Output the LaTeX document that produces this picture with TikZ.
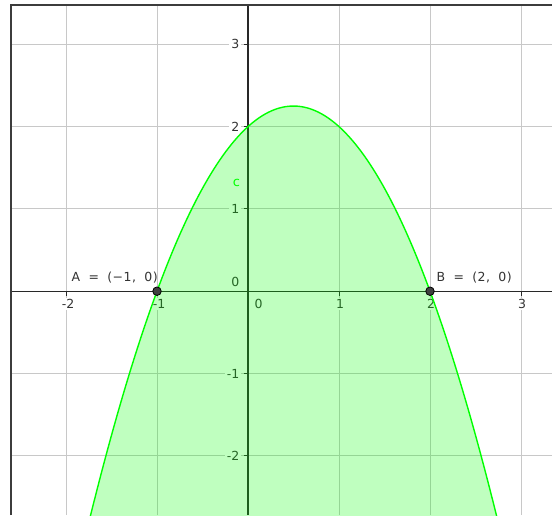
\documentclass[tikz,border=0pt]{standalone}
\usepackage{fontspec}
\setmainfont{DejaVu Sans}
\newfontfamily\ptfont[WordSpace=1.85,LetterSpace=4]{DejaVu Sans}
\definecolor{gridgray}{RGB}{200,200,200}
\definecolor{axisgray}{RGB}{40,40,40}
\definecolor{framegray}{RGB}{60,60,60}
\definecolor{curvegreen}{RGB}{0,255,0}
\definecolor{ptfill}{RGB}{64,64,64}
\definecolor{labelgray}{RGB}{51,51,51}
\begin{document}
\begin{tikzpicture}[x=1pt,y=-1pt,
  gridline/.style={draw=gridgray,line width=1pt},
  axisline/.style={draw=axisgray,line width=1.2pt},
  tickmark/.style={draw=axisgray,line width=1pt},
  ticklabel/.style={font=\fontsize{12.5}{13}\selectfont,text=labelgray,fill=white,inner xsep=2pt,inner ysep=1.5pt},
  zerolabel/.style={font=\fontsize{12.5}{13}\selectfont,text=labelgray,inner sep=0pt},
  ptlabel/.style={font=\ptfont\fontsize{12.5}{13}\selectfont,text=labelgray,inner sep=0pt,anchor=base west},
  curvelabel/.style={font=\fontsize{13}{13}\selectfont,text=curvegreen,inner sep=0pt},
  ptdot/.style={circle,fill=ptfill,draw=black,line width=0.8pt,minimum size=8.5pt,inner sep=0pt},
  fillregion/.style={fill=curvegreen,fill opacity=0.25},
  curveline/.style={draw=curvegreen,line width=1.4pt},
  framerule/.style={draw=framegray,line width=1.4pt,line join=miter}]

\useasboundingbox (0,0) rectangle (552,515);
\fill[white] (0,0) rectangle (552,515);

\begin{scope}
  \clip (11,5) rectangle (552,515);
  % grid
  \foreach \gx in {-2,...,3}
    \draw[gridline] ({248+91*\gx},5) -- ({248+91*\gx},515);
  \foreach \gy in {-2,...,3}
    \draw[gridline] (11,{291.2-82.3*\gy}) -- (552,{291.2-82.3*\gy});
  % x tick labels
  \foreach \gx/\nm/\lab/\dx in {-2/m2/-2/2,-1/m1/-1/2,1/p1/1/1,2/p2/2/1,3/p3/3/1}
    \node[ticklabel] (xt\nm) at ({248+91*\gx+\dx},304) {\lab};
  % y tick labels
  \foreach \gy/\nm/\lab in {-2/m2/-2,-1/m1/-1,1/p1/1,2/p2/2,3/p3/3}
    \node[ticklabel,anchor=east] (yt\nm) at (241.5,{291.2-82.3*\gy}) {\lab};
  \node[zerolabel] (zy) at (235.3,282.3) {0};
  \node[zerolabel] (zx) at (258.7,304) {0};
  % axes
  \draw[axisline] (11,291.2) -- (552,291.2);
  \draw[axisline] (248,5) -- (248,515);
  % ticks
  \foreach \gx in {-2,-1,1,2,3}
    \draw[tickmark] ({248+91*\gx},291.2) -- ({248+91*\gx},295.5);
  \foreach \gy in {-2,-1,1,2,3}
    \draw[tickmark] (243.5,{291.2-82.3*\gy}) -- (248,{291.2-82.3*\gy});
  % shaded region under the parabola
  \fill[fillregion] plot[domain=-1.8:2.8,samples=140]
    ({248+91*\x},{291.2-82.3*(-\x*\x+\x+2)}) -- cycle;
  % the parabola c
  \draw[curveline] plot[domain=-1.8:2.8,samples=140]
    ({248+91*\x},{291.2-82.3*(-\x*\x+\x+2)});
\end{scope}

% frame
\draw[framerule] (11,515) -- (11,5) -- (552,5);

% curve label
\node[curvelabel] (clab) at (236.5,183) {c};

% points and their labels
\node[ptdot] (A) at (157,291.2) {};
\node[ptdot] (B) at (430,291.2) {};
\node[ptlabel] (Alab) at (71.5,281) {A = (−1, 0)};
\node[ptlabel] (Blab) at (436.5,281) {B = (2, 0)};
\end{tikzpicture}
\end{document}
